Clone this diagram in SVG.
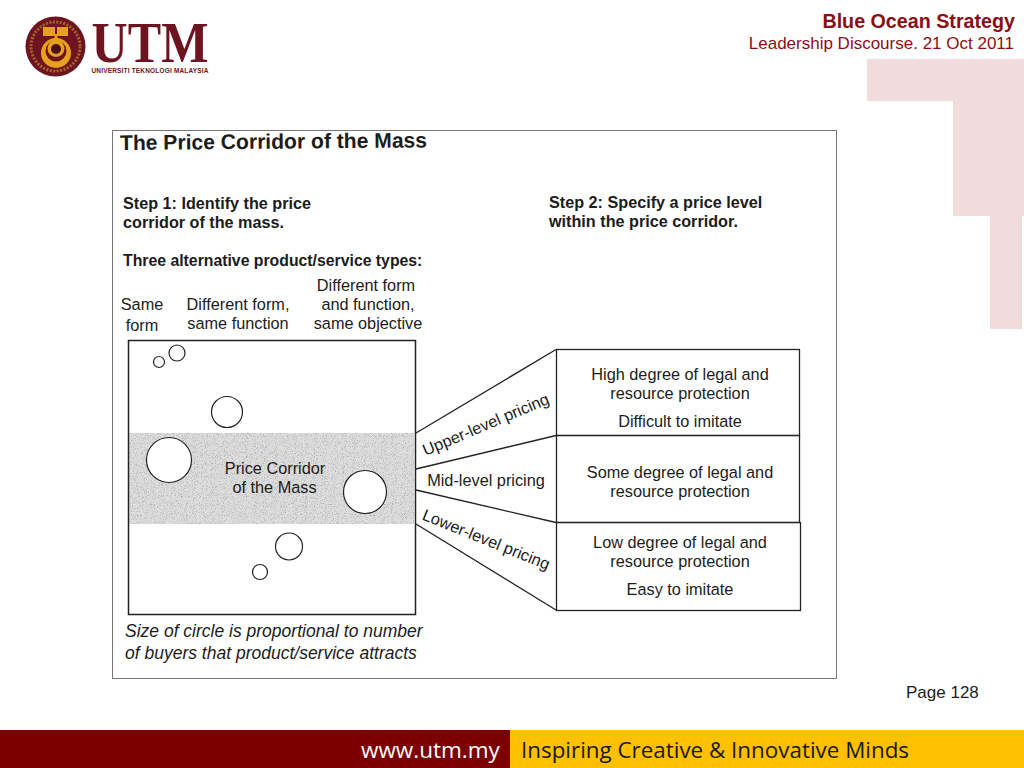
<svg xmlns="http://www.w3.org/2000/svg" width="1024" height="768" viewBox="0 0 1024 768">
<style>
text{font-family:"Liberation Sans",Arial,sans-serif;fill:#1c1c1c}
.b{font-weight:bold}
.m{text-anchor:middle}
.s{font-size:16.3px}
.h{font-size:16.200px;font-weight:bold}
.ln{fill:none;stroke:#222;stroke-width:1.3}
.c{fill:#fff;stroke:#222;stroke-width:1.2}
.pk{fill:#f0dcdc}
</style>
<defs>
<filter id="grain" x="0" y="0" width="100%" height="100%">
<feTurbulence type="fractalNoise" baseFrequency="1.1" numOctaves="2" seed="4"/>
<feColorMatrix type="matrix" values="0 0 0 0 .42 0 0 0 0 .42 0 0 0 0 .42 3.2 0 0 0 -1.55"/>
<feComposite in2="SourceGraphic" operator="in"/>
<feMerge><feMergeNode in="SourceGraphic"/><feMergeNode/></feMerge>
</filter>
</defs>
<rect width="1024" height="768" fill="#fff"/>
<g id="decor">
<rect class="pk" x="867" y="59" width="157" height="42"/>
<rect class="pk" x="953" y="101" width="71" height="115"/>
<rect class="pk" x="990" y="216" width="32" height="113"/>
</g>
<g id="logo">
<circle cx="55.500" cy="46.500" r="30" fill="#6e1420"/>
<circle cx="55.500" cy="46.500" r="24.500" fill="none" stroke="#a5652a" stroke-width="3" stroke-dasharray="2 1.500"/>
<path d="M43 27h12v9h-12zM57 27h11v9h-11z" fill="#e8a11c"/>
<circle cx="56" cy="53" r="15" fill="#e8a11c"/>
<circle cx="56" cy="51" r="10.500" fill="#6e1420"/>
<circle cx="56" cy="48.500" r="8.500" fill="#e8a11c"/>
<circle cx="56" cy="49" r="5" fill="#4a0f18"/>
<rect x="54.500" y="34" width="3" height="10" fill="#e8a11c"/>
<text x="150" y="62" class="m" style="font-family:'Liberation Serif',serif;font-weight:bold;font-size:58px;fill:#6e1420" textLength="117" lengthAdjust="spacingAndGlyphs">UTM</text>
<text x="150" y="73" class="m b" style="font-size:6.500px;fill:#6e1420" textLength="117" lengthAdjust="spacing">UNIVERSITI TEKNOLOGI MALAYSIA</text>
</g>
<g id="header">
<text x="1015" y="28" text-anchor="end" class="b" style="font-size:19.700px;fill:#8a0f14">Blue Ocean Strategy</text>
<text x="1014" y="49" text-anchor="end" style="font-size:17px;fill:#8a0f14">Leadership Discourse. 21 Oct 2011</text>
</g>
<rect id="frame" x="112.500" y="130.500" width="724" height="548" fill="#fff" stroke="#777" stroke-width="1"/>
<g id="headings">
<text x="120" y="150" class="b" style="font-size:21.100px" transform="rotate(-.5 120 150)">The Price Corridor of the Mass</text>
<text x="123" y="209" class="h">Step 1: Identify the price</text>
<text x="123" y="228" class="h">corridor of the mass.</text>
<text x="123" y="266" class="h" style="font-size:15.800px">Three alternative product/service types:</text>
<text x="549" y="208" class="h">Step 2: Specify a price level</text>
<text x="549" y="227" class="h">within the price corridor.</text>
<text x="142" y="310" class="s m">Same</text>
<text x="142" y="331" class="s m">form</text>
<text x="238" y="310" class="s m">Different form,</text>
<text x="238" y="329" class="s m">same function</text>
<text x="366" y="291" class="s m">Different form</text>
<text x="368" y="310" class="s m">and function,</text>
<text x="368" y="329" class="s m">same objective</text>
</g>
<g id="map">
<rect x="129" y="433" width="285" height="91" fill="#dedede" filter="url(#grain)"/>
<rect x="128.500" y="340.500" width="287" height="274" fill="none" stroke="#222" stroke-width="1.500"/>
</g>
<g id="circles">
<circle class="c" cx="159" cy="362" r="5.500"/>
<circle class="c" cx="177" cy="353" r="8"/>
<circle class="c" cx="227" cy="412" r="15.500"/>
<circle class="c" cx="169" cy="460" r="22.500"/>
<circle class="c" cx="365" cy="492" r="21.500"/>
<circle class="c" cx="289" cy="546.500" r="13.500"/>
<circle class="c" cx="260" cy="572" r="7.500"/>
</g>
<text id="corridor-label" class="s m" x="275" y="474"><tspan x="275">Price Corridor</tspan><tspan x="274.500" dy="19">of the Mass</tspan></text>
<g id="connectors">
<path class="ln" d="M416 433L556 349.500M416 469L556 435.500M416 490L556 522.500M416 524L556 610"/>
</g>
<g id="box-high">
<rect class="ln" x="556.500" y="349.500" width="243" height="86"/>
<text class="s m" x="680" y="380">High degree of legal and</text>
<text class="s m" x="680" y="399">resource protection</text>
<text class="s m" x="680" y="427">Difficult to imitate</text>
</g>
<g id="box-mid">
<rect class="ln" x="556.500" y="435.500" width="243" height="87"/>
<text class="s m" x="680" y="478">Some degree of legal and</text>
<text class="s m" x="680" y="497">resource protection</text>
</g>
<g id="box-low">
<rect class="ln" x="556.500" y="522.500" width="244" height="88"/>
<text class="s m" x="680" y="548">Low degree of legal and</text>
<text class="s m" x="680" y="567">resource protection</text>
<text class="s m" x="680" y="595">Easy to imitate</text>
</g>
<g id="pricing-labels">
<text class="s m" x="486" y="430" transform="rotate(-23 486 425)">Upper-level pricing</text>
<text class="s m" x="486" y="486">Mid-level pricing</text>
<text class="s m" x="486" y="545" transform="rotate(22 486 540)">Lower-level pricing</text>
</g>
<text id="note" style="font-size:17.500px;font-style:italic"><tspan x="125" y="637">Size of circle is proportional to number</tspan><tspan x="125" y="659">of buyers that product/service attracts</tspan></text>
<text id="page" x="906" y="698" style="font-size:17px">Page 128</text>
<g id="footer">
<rect x="0" y="730" width="510" height="38" fill="#7d0000"/>
<rect x="510" y="730" width="514" height="38" fill="#ffc000"/>
<text x="361" y="758" style="font-family:'Open Sans',sans-serif;font-size:22.500px;fill:#fff">www.utm.my</text>
<text x="521" y="758" style="font-family:'Open Sans',sans-serif;font-size:22.400px;fill:#1a1a1a">Inspiring Creative &amp; Innovative Minds</text>
</g>
</svg>
